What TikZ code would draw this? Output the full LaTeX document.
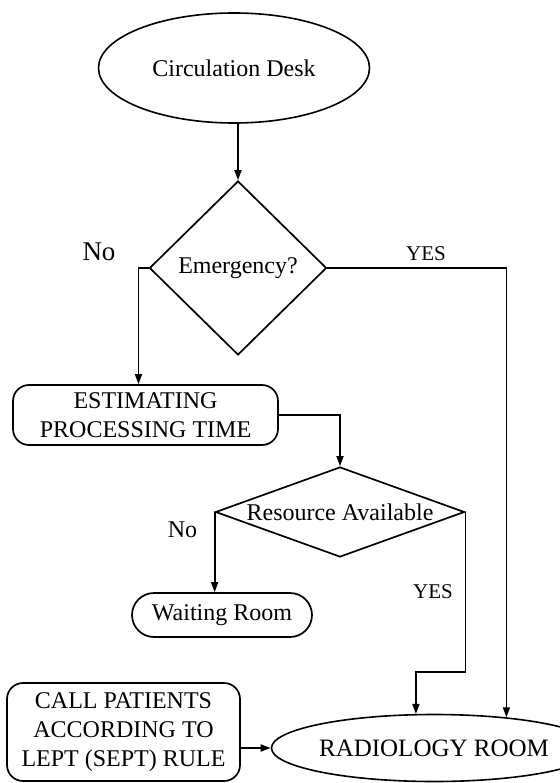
\documentclass[tikz,border=0pt]{standalone}
\usepackage{fontspec}
\setmainfont{Liberation Serif}
\usepackage{tikz}
\usetikzlibrary{arrows.meta, positioning, shapes.geometric, shapes.misc}

\begin{document}
\begin{tikzpicture}[
    x=1pt, y=-1pt,
    every node/.style={font=\fontsize{24}{29}\selectfont},
    terminal/.style={draw, ellipse, line width=1.6pt, inner sep=0pt},
    decision/.style={draw, diamond, line width=1.7pt, inner sep=0pt},
    process/.style={draw, rectangle, rounded corners=16pt, line width=1.7pt, align=center, inner sep=0pt},
    flow/.style={-{Triangle[length=10pt, width=7pt]}, line width=1.7pt},
    tag/.style={font=\fontsize{#1}{#1}\selectfont},
    tag/.default=21
]

\useasboundingbox (0,0) rectangle (559,783);

% Start
\node[terminal, minimum width=271pt, minimum height=110pt] (desk) at (234,68) {Circulation Desk};

% First decision
\node[decision, minimum width=177pt, minimum height=174pt] (emergency) at (238,268) {Emergency?};
\node[tag=27] (no1) at (99,252) {No};
\node[tag] (yes1) at (426,254) {YES};

% Estimation step
\node[process, minimum width=265pt, minimum height=60pt] (estimating) at (145.5,415)
    {ESTIMATING\\PROCESSING TIME};

% Second decision
\node[decision, aspect=3, minimum width=249pt, minimum height=90pt] (resource) at (340,512)
    {Resource Available};
\node[tag=24] (no2) at (182.5,530) {No};
\node[tag] (yes2) at (433,592) {YES};

% Waiting room
\node[draw, rounded rectangle, line width=1.7pt, minimum width=180pt, minimum height=44pt, inner sep=0pt]
    (waiting) at (222,615) {Waiting Room};

% Queue rule
\node[process, minimum width=233pt, minimum height=98pt] (call) at (123.5,732)
    {CALL PATIENTS\\ACCORDING TO\\LEPT (SEPT) RULE};

% End
\node[terminal, minimum width=248pt, minimum height=67pt, font=\fontsize{25}{29}\selectfont]
    (radiology) at (434,748) {RADIOLOGY ROOM};

% Connectors
\draw[flow] (desk.south -| emergency.north) -- (emergency.north);
\draw[flow] (emergency.west) -| ([xshift=-7pt]estimating.north);
\draw[flow] (emergency.east) -| (radiology.23);
\draw[flow] (estimating.east) -| (resource.north);
\draw[flow] (resource.west) -- (resource.west |- waiting.north);
\draw[flow] (resource.east) -- ++(0,160) -| (radiology.118);
\draw[flow] (call.east |- radiology.west) -- (radiology.west);

\end{tikzpicture}
\end{document}
